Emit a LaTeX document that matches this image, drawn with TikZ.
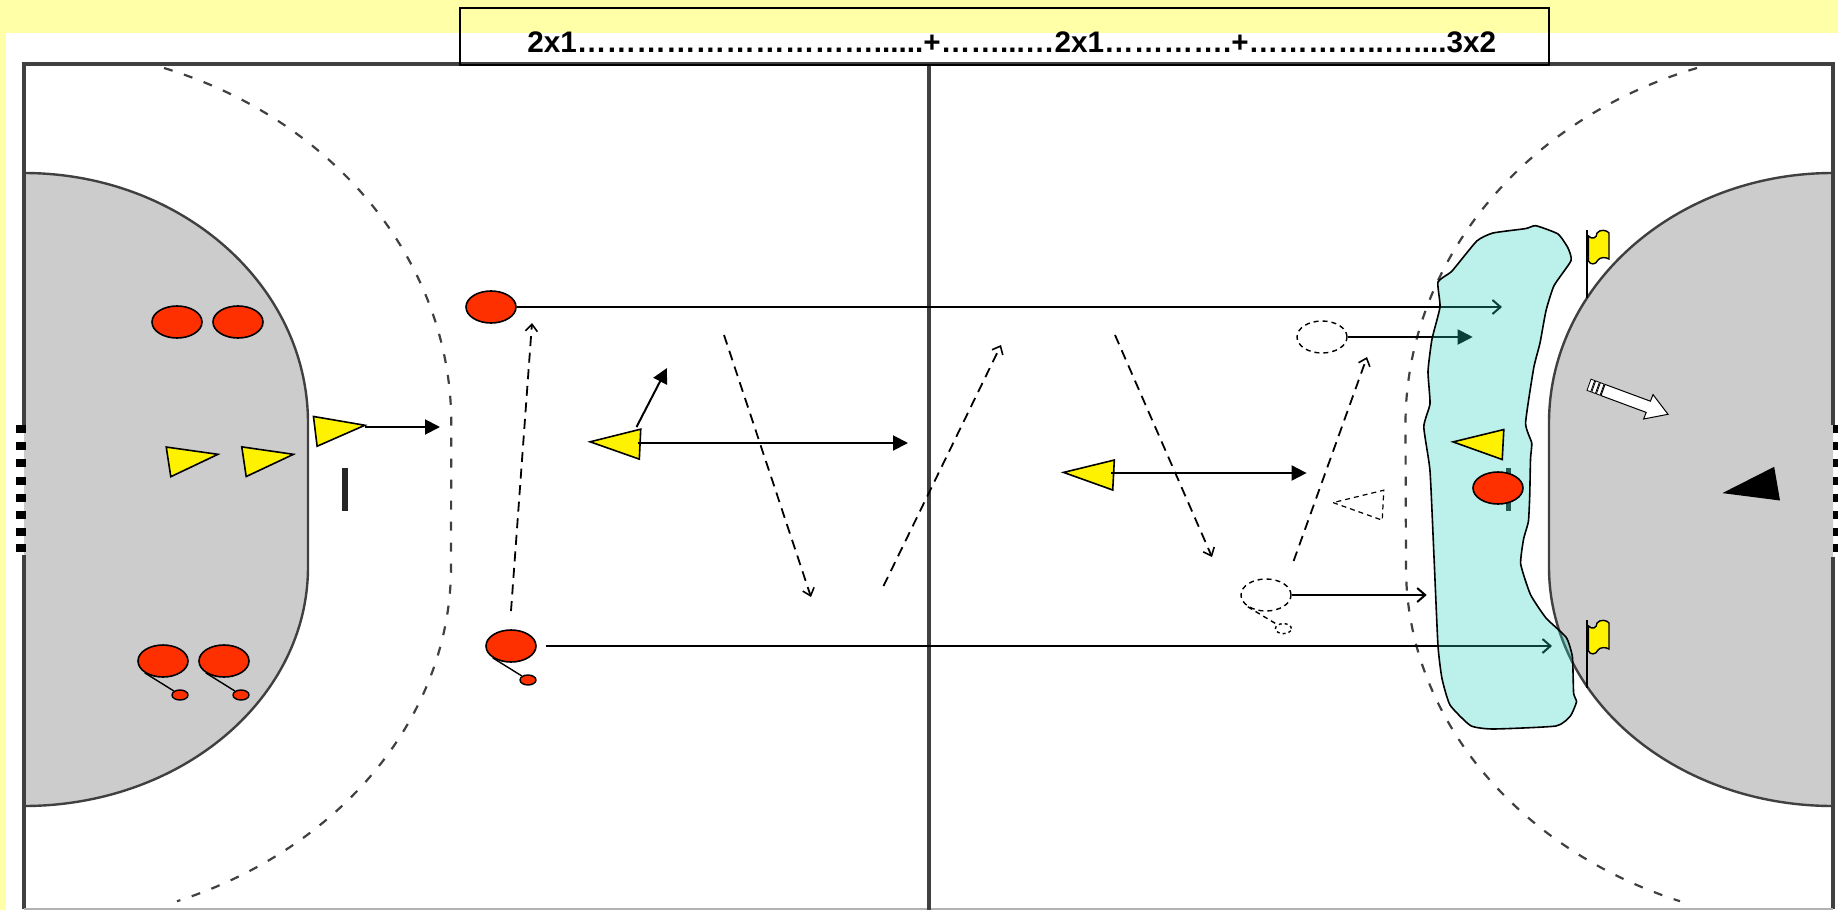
\documentclass[tikz,border=0pt]{standalone}
\usepackage{fontspec}
\setmainfont{Liberation Sans}
\usepackage{tikz}
\usetikzlibrary{shapes.geometric, arrows.meta}
\definecolor{paper}{HTML}{FFFFA8}
\definecolor{linegrey}{HTML}{404040}
\definecolor{areagrey}{HTML}{CCCCCC}
\definecolor{redplayer}{HTML}{FF3000}
\definecolor{zonecol}{RGB}{33,210,187}
\tikzstyle{court} = [draw=linegrey, line width=1.6pt]
\tikzstyle{area} = [draw=linegrey, fill=areagrey, line width=1.2pt]
\tikzstyle{freeline} = [draw=linegrey, line width=1.1pt, dash pattern=on 4.5pt off 6pt]
\tikzstyle{attacker} = [draw, ellipse, fill=redplayer, line width=0.8pt, inner sep=0pt, minimum width=25pt, minimum height=16pt]
\tikzstyle{ball} = [draw, ellipse, fill=redplayer, line width=0.7pt, inner sep=0pt, minimum width=8pt, minimum height=5pt]
\tikzstyle{ghost} = [draw, ellipse, dashed, line width=0.7pt, dash pattern=on 2.5pt off 2pt, inner sep=0pt, minimum width=25pt, minimum height=16pt]
\tikzstyle{ghostball} = [draw, ellipse, line width=0.7pt, dash pattern=on 1.5pt off 1.5pt, inner sep=0pt, minimum width=8pt, minimum height=5pt]
\tikzstyle{defender} = [draw, isosceles triangle, isosceles triangle stretches, fill=yellow, line width=0.8pt, inner sep=0pt, minimum width=15pt, minimum height=25pt]
\tikzstyle{run} = [line width=1pt, -{Triangle[length=7.5pt,width=7.5pt]}]
\tikzstyle{drive} = [line width=1pt, -{Straight Barb[length=4pt,width=7pt]}]
\tikzstyle{pass} = [line width=0.9pt, dash pattern=on 5pt off 3.3pt, -{Straight Barb[length=3.5pt,width=6pt,line width=0.8pt]}]

\begin{document}
\begin{tikzpicture}[x=0.5pt,y=-0.5pt]

  \useasboundingbox (0,0) rectangle (1838,910);
  \fill[paper] (0,0) rectangle (1838,910);
  \fill[white] (6,33) rectangle (1838,910);

  % goal areas
  \path[area] (24,173) arc[start angle=-90,end angle=0,x radius=284,y radius=250]
    -- (308,567) arc[start angle=0,end angle=90,x radius=284,y radius=239];
  \path[area] (1833,173) arc[start angle=-90,end angle=-180,x radius=284,y radius=250]
    -- (1549,567) arc[start angle=180,end angle=90,x radius=284,y radius=239];

  % free throw lines
  \draw[freeline] (164,68) arc[start angle=-70.9,end angle=0,x radius=427,y radius=376]
    -- (451,567) arc[start angle=0,end angle=69,x radius=427,y radius=358];
  \draw[freeline] (1697,68) arc[start angle=-108.5,end angle=-180,x radius=427,y radius=376]
    -- (1406,567) arc[start angle=180,end angle=111,x radius=427,y radius=358];

  % court
  \draw[court] (24,425) -- (24,64) -- (1833,64) -- (1833,425);
  \draw[court] (24,555) -- (24,909);
  \draw[court] (1833,557) -- (1833,909);
  \draw[linegrey!40, line width=0.8pt] (24,909) -- (1833,909);
  \draw[court] (929,64) -- (929,910);
  \foreach \y in {429,446,463,481,498,515,532,548}{
    \fill (16,\y-4) rectangle (26,\y+4);
    \fill (1833,\y-4) rectangle (1838,\y+4);
  }

  % players
  \foreach \x/\y/\i in {177/322/1,238/322/2,491/307/3}{
    \node[attacker] (red\i) at (\x,\y) {};
  }
  \foreach \x/\y/\i in {163/661/4,224/661/5,511/646/6}{
    \node[attacker] (red\i) at (\x,\y) {};
    \node[ball] (ball\i) at (\x+17,\y+34) {};
    \draw[line width=0.7pt] (red\i.south west) -- (ball\i.north west);
  }
  \foreach \x/\y/\r/\i in {367/425/7/1,220/454/8.7/2,295.5/454/8.5/3,588/441.7/177.3/4,1061.5/472.3/177/5}{
    \node[defender, anchor=apex, rotate=\r] (def\i) at (\x,\y) {};
  }

  \node[ghost] (gh1) at (1322,337) {};
  \node[ghost] (gh2) at (1266,595) {};
  \node[ghostball] (ghb) at (1283.4,628.6) {};
  \draw[line width=0.7pt, dash pattern=on 2.5pt off 2pt] (gh2.south west) -- (ghb.north west);
  \node[defender, dash pattern=on 2.5pt off 2pt, fill=none, line width=0.6pt, anchor=apex, rotate=177] (defg) at (1331.5,502.5) {};

  % passes
  \foreach \a/\b/\c/\d/\i in {511/611/532/323/1,724/335/811/597/2,883.5/586/1001/345/3,1115/335/1212/557/4,1293.6/561/1367/357/5}{
    \coordinate (ps\i) at (\a,\b);
    \coordinate (pe\i) at (\c,\d);
    \draw[pass] (ps\i) -- (pe\i);
  }

  % runs
  \coordinate (s1) at (364.6,427);
  \coordinate (e1) at (440,427);
  \coordinate (e2) at (667,368);
  \coordinate (s3) at (637.5,443);
  \coordinate (e3) at (908,443);
  \coordinate (s4) at (1111,473);
  \coordinate (e4) at (1306.6,473);
  \coordinate (s2) at (636.5,427);
  \coordinate (e5) at (1472.7,337);
  \coordinate (e6) at (1502,307);
  \coordinate (e7) at (1426.7,595);
  \coordinate (s8) at (546,646);
  \coordinate (e8) at (1552,646);
  \draw[run] (s1) -- (e1);
  \draw[run] (s2) -- (e2);
  \draw[run] (s3) -- (e3);
  \draw[run] (s4) -- (e4);
  \draw[run] (gh1.east) -- (e5);
  \draw[drive] (red3.east) -- (e6);
  \draw[drive] (gh2.east) -- (e7);
  \draw[drive] (s8) -- (e8);

  \fill[black!85] (342,468) rectangle (348,511);
  \fill[black!85] (1506,468) rectangle (1511,511);

  % zone
  \path[draw=black, line width=0.8pt, fill=zonecol, fill opacity=0.3] plot[smooth cycle, tension=0.3] coordinates {
    (1535.8,225.7) (1558,234) (1568,248) (1571,260.7) (1554,285.7) (1546,310.7) (1540,343)
    (1533.7,368) (1525.6,423) (1531.7,443) (1530.5,459) (1529.7,496.4) (1528.4,521.4)
    (1523.6,539) (1520.7,564) (1530.5,594.6) (1546,618) (1566.3,637.5) (1572.4,657)
    (1573.6,693) (1576.5,701.8) (1570.4,716) (1556,726) (1493,729) (1470.7,725.7)
    (1450,705) (1442,678.6) (1438,646) (1434,557) (1430,471) (1423.8,426.8) (1430,403.6)
    (1428,371.4) (1432,339) (1440,307) (1438,282) (1452,271) (1476.8,241) (1493,233) (1525.6,228.6)};

  \node[defender, anchor=apex, rotate=177] (def6) at (1451,441.8) {};
  \node[attacker] (red7) at (1498,488) {};
  \node[defender, fill=black, minimum width=16pt, minimum height=26pt, anchor=apex, rotate=189.8] (keeper) at (1723,493) {};

  % flags
  \foreach \y in {230,620}{
    \draw[line width=0.7pt] (1587,\y) -- (1587,\y+68);
    \draw[fill=yellow, line width=0.7pt] (1588.5,\y+6)
      .. controls (1592,\y+10) and (1597,\y+8) .. (1597,\y+3)
      .. controls (1600,\y-1) and (1607,\y) .. (1609,\y+3)
      -- (1609,\y+29)
      .. controls (1606,\y+27) and (1600,\y+27) .. (1598,\y+30)
      .. controls (1596,\y+35) and (1590,\y+35) .. (1588.5,\y+31) -- cycle;
  }

  % white arrow
  \draw[fill=white, line width=0.5pt] (1605,384.4) -- (1650.4,401.2) -- (1653,394.6) -- (1668,414.3)
    -- (1643.6,419) -- (1646.2,412.4) -- (1601,395.6) -- cycle;
  \foreach \t in {1,6,11}{
    \draw[fill=white, line width=0.4pt] (1605-0.937*\t,384.4-0.349*\t) -- (1605-0.937*\t-3.7,384.4-0.349*\t-1.4)
      -- (1601-0.937*\t-3.7,395.6-0.349*\t-1.4) -- (1601-0.937*\t,395.6-0.349*\t) -- cycle;
  }

  % title
  \node (bar) [draw, line width=0.9pt, inner sep=0pt, minimum width=544.5pt, minimum height=28.5pt] at (1004.5,36.5) {};
  \node (title) [anchor=base west, inner sep=0pt, font=\fontsize{14.85}{18}\selectfont\bfseries] at (527,53)
    {2x1…………………………......+……...…2x1………….+…………..…....3x2};

\end{tikzpicture}
\end{document}
